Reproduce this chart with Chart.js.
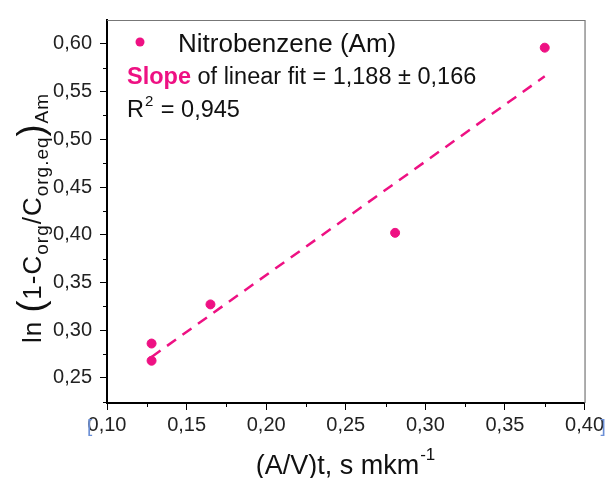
<!DOCTYPE html>
<html>
<head>
<meta charset="utf-8">
<script src="https://cdn.jsdelivr.net/npm/chart.js@4.4.1/dist/chart.umd.min.js"></script>
<style>
  body { margin: 0; background: #fff; }
</style>
</head>
<body>
<canvas id="c" width="607" height="478"></canvas>
<script>
// measured points
const xValues = [0.128, 0.128, 0.165, 0.281, 0.375];
const yValues = [0.286, 0.268, 0.327, 0.402, 0.596];
// linear fit ends
const fitX = [0.128, 0.375];
const fitY = [0.272, 0.566];

const seriesName = "Nitrobenzene (Am)";
const slopeText = " of linear fit = 1,188 ± 0,166";
const r2Text = "0,945";

const PINK = "#ee1183";
const FONT = "'Liberation Sans', Arial, sans-serif";

const comma = (v) => v.toFixed(2).replace(".", ",");

// minor ticks + frame + texts
const decor = {
  id: "decor",
  afterDraw(chart) {
    const ctx = chart.ctx;
    const a = chart.chartArea;
    const sx = chart.scales.x, sy = chart.scales.y;
    ctx.save();

    // top / right frame
    ctx.strokeStyle = "#777";
    ctx.lineWidth = 1.2;
    ctx.beginPath();
    ctx.moveTo(a.left, a.top + 0.5);
    ctx.lineTo(a.right + 0.5, a.top + 0.5);
    ctx.lineTo(a.right + 0.5, a.bottom);
    ctx.stroke();

    // minor ticks
    ctx.strokeStyle = "#000";
    ctx.lineWidth = 1;
    ctx.beginPath();
    for (let v = 0.125; v < 0.4; v += 0.05) {
      const px = Math.round(sx.getPixelForValue(v)) + 0.5;
      ctx.moveTo(px, a.bottom);
      ctx.lineTo(px, a.bottom + 4);
    }
    for (let v = 0.225; v < 0.625; v += 0.05) {
      const py = Math.round(sy.getPixelForValue(v)) + 0.5;
      ctx.moveTo(a.left, py);
      ctx.lineTo(a.left - 4, py);
    }
    ctx.stroke();

    // blue brackets around the x range
    ctx.fillStyle = "#6b8fd6";
    ctx.font = "19px " + FONT;
    ctx.textBaseline = "alphabetic";
    ctx.fillText("[", sx.getPixelForValue(0.1) - 20, 432);
    ctx.fillText("]", sx.getPixelForValue(0.4) + 16, 432);

    // legend
    ctx.fillStyle = PINK;
    ctx.beginPath();
    ctx.arc(140, 42, 4.5, 0, Math.PI * 2);
    ctx.fill();
    ctx.fillStyle = "#111";
    ctx.font = "26px " + FONT;
    ctx.fillText(seriesName, 178, 52);

    // slope text
    ctx.font = "bold 23.5px " + FONT;
    ctx.fillStyle = PINK;
    ctx.fillText("Slope", 127, 84);
    const w = ctx.measureText("Slope").width;
    ctx.font = "23.5px " + FONT;
    ctx.fillStyle = "#111";
    ctx.fillText(slopeText, 127 + w, 84);

    // R2
    let x = 127;
    ctx.fillText("R", x, 117);
    x += ctx.measureText("R").width;
    ctx.font = "15px " + FONT;
    ctx.fillText("2", x + 1, 106);
    x += ctx.measureText("2").width + 2;
    ctx.font = "23.5px " + FONT;
    ctx.fillText(" = " + r2Text, x, 117);

    // x title
    ctx.font = "27px " + FONT;
    const xt = "(A/V)t, s mkm";
    const xw = ctx.measureText(xt).width;
    ctx.font = "17px " + FONT;
    const sw = ctx.measureText("-1").width;
    let tx = 345 - (xw + sw) / 2;
    ctx.font = "27px " + FONT;
    ctx.fillText(xt, tx, 474);
    ctx.font = "17px " + FONT;
    ctx.fillText("-1", tx + xw + 1, 460);

    // y title (rotated), pieces: [text, size, baseline shift]
    const parts = [
      ["ln ", 26, 0],
      ["(", 36, 2],
      ["1-C", 26, 0],
      ["org", 19, 7],
      ["/C", 26, 0],
      ["org.eq", 19, 7],
      [")", 36, 2],
      ["Am", 19, 7],
    ];
    ctx.letterSpacing = "1px";
    let total = 0;
    parts.forEach((p) => {
      ctx.font = p[1] + "px " + FONT;
      total += ctx.measureText(p[0]).width;
    });
    ctx.translate(41, 218);
    ctx.rotate(-Math.PI / 2);
    let px = -total / 2;
    parts.forEach((p) => {
      ctx.font = p[1] + "px " + FONT;
      ctx.fillText(p[0], px, p[2]);
      px += ctx.measureText(p[0]).width;
    });

    ctx.restore();
  },
};

new Chart(document.getElementById("c"), {
  type: "scatter",
  data: {
    datasets: [
      {
        label: seriesName,
        data: xValues.map((x, i) => ({ x: x, y: yValues[i] })),
        backgroundColor: PINK,
        borderColor: PINK,
        pointRadius: 4.5,
        pointHoverRadius: 4.5,
        order: 1,
      },
      {
        label: "fit",
        type: "line",
        data: fitX.map((x, i) => ({ x: x, y: fitY[i] })),
        borderColor: PINK,
        borderWidth: 2.5,
        borderDash: [11, 8],
        pointRadius: 0,
        fill: false,
        order: 2,
      },
    ],
  },
  options: {
    responsive: false,
    animation: false,
    layout: { padding: { top: 16, right: 19, left: 0, bottom: 0 } },
    plugins: { legend: { display: false }, tooltip: { enabled: false } },
    scales: {
      x: {
        type: "linear",
        min: 0.1,
        max: 0.4,
        afterFit: (s) => { s.height = 75; },
        border: { color: "#000", width: 2 },
        grid: { drawOnChartArea: false, tickLength: 7, tickColor: "#000", tickWidth: 1 },
        ticks: {
          stepSize: 0.05,
          includeBounds: false,
          color: "#222",
          padding: 3,
          font: { family: FONT, size: 20 },
          callback: comma,
        },
      },
      y: {
        type: "linear",
        min: 0.2237,
        max: 0.625,
        afterFit: (s) => { s.width = 107; },
        border: { color: "#000", width: 2 },
        grid: { drawOnChartArea: false, tickLength: 7, tickColor: "#000", tickWidth: 1 },
        ticks: {
          stepSize: 0.05,
          includeBounds: false,
          color: "#222",
          padding: 8,
          font: { family: FONT, size: 20 },
          callback: comma,
        },
      },
    },
  },
  plugins: [decor],
});
</script>
</body>
</html>
